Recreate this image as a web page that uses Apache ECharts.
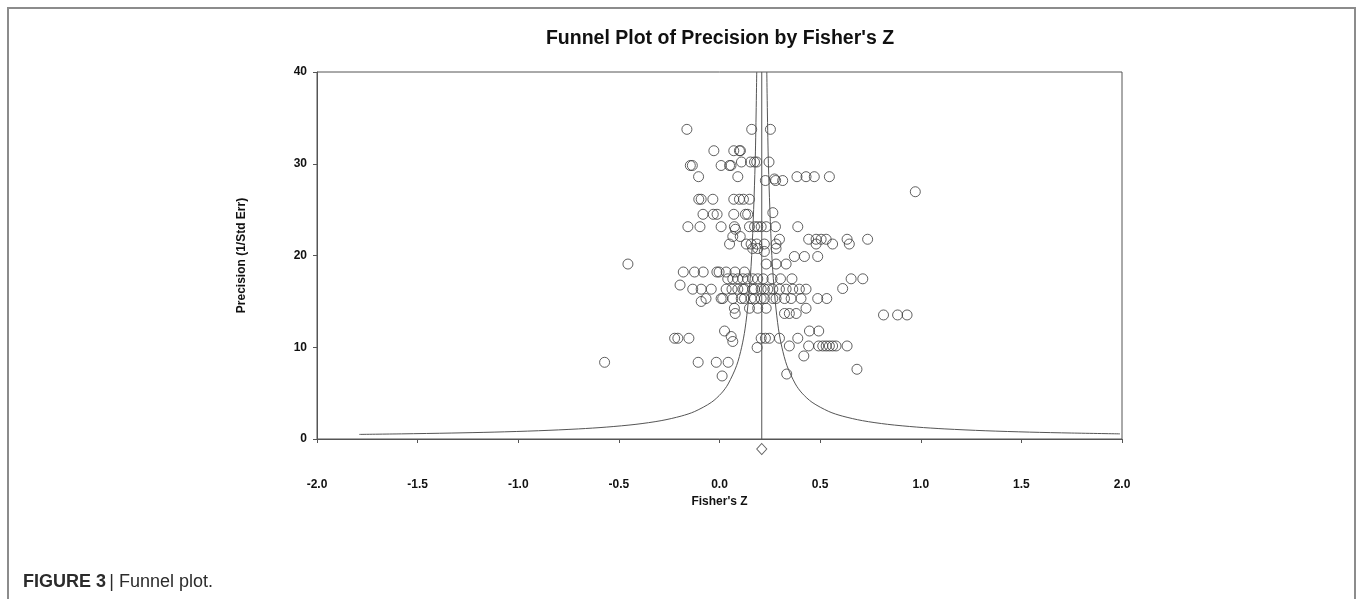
<!DOCTYPE html>
<html>
<head>
<meta charset="utf-8">
<title>Funnel Plot of Precision by Fisher's Z</title>
<script src="https://cdn.jsdelivr.net/npm/echarts@6/dist/echarts.min.js"></script>
<style>
  html, body { margin: 0; padding: 0; background: #fff; }
  #chart { width: 1358px; height: 599px; }
</style>
</head>
<body>
<div id="chart"></div>
<script>
// study points (Fisher's Z, precision)
const studyZ = [
  -0.162, 0.160, 0.253,
  -0.028, 0.071, 0.099, 0.104,
  0.109, 0.154, 0.174, 0.185, 0.246,
  -0.145, -0.135, 0.008, 0.050, 0.057,
  -0.104, 0.091, 0.385, 0.430, 0.471, 0.546,
  0.273,
  0.228, 0.279, 0.314,
  0.973,
  -0.103, -0.091, -0.033, 0.071, 0.099, 0.119, 0.149,
  0.265,
  -0.082, -0.031, -0.012, 0.071, 0.129, 0.140,
  -0.157, -0.097, 0.008, 0.074, 0.149, 0.174, 0.190, 0.207, 0.232, 0.278, 0.389,
  0.079,
  0.066, 0.103,
  0.298, 0.443, 0.480, 0.505, 0.530, 0.634, 0.736,
  0.050, 0.133, 0.157, 0.185, 0.223, 0.281, 0.480, 0.562, 0.645,
  0.165, 0.190, 0.281,
  0.223,
  0.372, 0.422, 0.488,
  -0.455, 0.232, 0.281, 0.331,
  -0.180, -0.124, -0.081, -0.013, -0.002, 0.033, 0.077, 0.124,
  0.041, 0.066, 0.091, 0.116, 0.140, 0.165, 0.190, 0.217, 0.261, 0.303, 0.360, 0.654, 0.712,
  -0.196,
  0.612,
  -0.133, -0.091, -0.041, 0.033, 0.062, 0.091, 0.116, 0.124, 0.165, 0.174, 0.207, 0.223, 0.240, 0.265, 0.298, 0.331, 0.364, 0.397, 0.430,
  -0.067, 0.008, 0.016, 0.066, 0.108, 0.124, 0.157, 0.174, 0.207, 0.223, 0.265, 0.281, 0.323, 0.356, 0.405, 0.488, 0.533,
  -0.091,
  0.074, 0.149, 0.190, 0.232, 0.430,
  0.078, 0.323, 0.347, 0.381,
  0.815, 0.885, 0.932,
  0.025, 0.447, 0.493,
  0.058,
  -0.223, -0.207, -0.152, 0.207, 0.228, 0.248, 0.298, 0.389,
  0.066,
  0.347, 0.443, 0.493, 0.513, 0.530, 0.546, 0.562, 0.579, 0.634,
  0.187,
  0.419,
  -0.571, -0.106, -0.016, 0.043,
  0.683,
  0.334,
  0.013
]
const studyPrecision = [
  33.75, 33.75, 33.75,
  31.42, 31.42, 31.42, 31.42,
  30.19, 30.19, 30.19, 30.19, 30.19,
  29.81, 29.81, 29.81, 29.81, 29.81,
  28.59, 28.59, 28.59, 28.59, 28.59, 28.59,
  28.34,
  28.17, 28.17, 28.17,
  26.95,
  26.13, 26.13, 26.13, 26.13, 26.13, 26.13, 26.13,
  24.67,
  24.49, 24.49, 24.49, 24.49, 24.49, 24.49,
  23.14, 23.14, 23.14, 23.14, 23.14, 23.14, 23.14, 23.14, 23.14, 23.14, 23.14,
  22.86,
  22.07, 22.07,
  21.77, 21.77, 21.77, 21.77, 21.77, 21.77, 21.77,
  21.25, 21.25, 21.25, 21.25, 21.25, 21.25, 21.25, 21.25, 21.25,
  20.76, 20.76, 20.76,
  20.44,
  19.89, 19.89, 19.89,
  19.07, 19.07, 19.07, 19.07,
  18.20, 18.20, 18.20, 18.20, 18.20, 18.20, 18.20, 18.20,
  17.46, 17.46, 17.46, 17.46, 17.46, 17.46, 17.46, 17.46, 17.46, 17.46, 17.46, 17.46, 17.46,
  16.78,
  16.40,
  16.33, 16.33, 16.33, 16.33, 16.33, 16.33, 16.33, 16.33, 16.33, 16.33, 16.33, 16.33, 16.33, 16.33, 16.33, 16.33, 16.33, 16.33, 16.33,
  15.31, 15.31, 15.31, 15.31, 15.31, 15.31, 15.31, 15.31, 15.31, 15.31, 15.31, 15.31, 15.31, 15.31, 15.31, 15.31, 15.31,
  14.99,
  14.25, 14.25, 14.25, 14.25, 14.25,
  13.68, 13.68, 13.68, 13.68,
  13.52, 13.52, 13.52,
  11.77, 11.77, 11.77,
  11.17,
  10.98, 10.98, 10.98, 10.98, 10.98, 10.98, 10.98, 10.98,
  10.63,
  10.14, 10.14, 10.14, 10.14, 10.14, 10.14, 10.14, 10.14, 10.14,
  9.97,
  9.05,
  8.36, 8.36, 8.36, 8.36,
  7.60,
  7.08,
  6.87
]

// funnel limits and the pooled estimate
const funnelPrecision = [40, 30, 20, 15, 12, 10, 8, 6, 5, 4, 3, 2.5, 2, 1.6, 1.3, 1.1, 0.9, 0.75, 0.65, 0.56, 0.5]
const funnelLeft = [0.185, 0.177, 0.16, 0.143, 0.127, 0.11, 0.085, 0.043, 0.01, -0.04, -0.123, -0.19, -0.29, -0.415, -0.56, -0.70, -0.90, -1.12, -1.33, -1.58, -1.79]
const funnelRight = [0.235, 0.243, 0.26, 0.277, 0.293, 0.31, 0.335, 0.377, 0.41, 0.46, 0.543, 0.61, 0.71, 0.835, 0.98, 1.12, 1.32, 1.54, 1.75, 1.99]
const pooledZ = 0.21
const pooledMarkY = -1.09
const centerLineY = [0, 40]

const xTicks = { min: -2, max: 2, interval: 0.5 }
const yTicks = { min: 0, max: 40, interval: 10 }

const ink = '#3a3a3a'
const font = 'Arial, "Liberation Sans", sans-serif'

const studies = studyZ.map((z, i) => [z, studyPrecision[i]])
const leftLine = funnelLeft.map((z, i) => [z, funnelPrecision[i]])
const rightLine = funnelRight.map((z, i) => [z, funnelPrecision[i]])
const centerLine = centerLineY.map((p) => [pooledZ, p])

const chart = echarts.init(document.getElementById('chart'))

const option = {
  backgroundColor: '#fff',
  animation: false,
  title: {
    text: "Funnel Plot of Precision by Fisher's Z",
    left: 715,
    top: 24,
    textAlign: 'center',
    textStyle: { fontFamily: font, fontWeight: 'bold', fontSize: 19.5, color: '#111' }
  },
  grid: {
    left: 317,
    right: 236,
    top: 72,
    bottom: 160,
    show: true,
    borderColor: '#555',
    borderWidth: 1,
    backgroundColor: 'transparent'
  },
  xAxis: {
    type: 'value',
    min: xTicks.min,
    max: xTicks.max,
    interval: xTicks.interval,
    name: "Fisher's Z",
    nameLocation: 'middle',
    nameGap: 56,
    nameTextStyle: { fontFamily: font, fontWeight: 'bold', fontSize: 12, color: '#111' },
    axisLine: { show: true, onZero: false, lineStyle: { color: '#555', width: 1 } },
    axisTick: { show: true, inside: false, length: 4, lineStyle: { color: '#555' } },
    axisLabel: {
      margin: 40,
      fontFamily: font,
      fontWeight: 'bold',
      fontSize: 12,
      color: '#111',
      formatter: (v) => v.toFixed(1)
    },
    splitLine: { show: false }
  },
  yAxis: {
    type: 'value',
    min: yTicks.min,
    max: yTicks.max,
    interval: yTicks.interval,
    name: 'Precision (1/Std Err)',
    nameLocation: 'middle',
    nameRotate: 90,
    nameGap: 69,
    nameTextStyle: { fontFamily: font, fontWeight: 'bold', fontSize: 12, color: '#111' },
    axisLine: { show: true, onZero: false, lineStyle: { color: '#555', width: 1 } },
    axisTick: { show: true, inside: false, length: 4, lineStyle: { color: '#555' } },
    axisLabel: { margin: 10, fontFamily: font, fontWeight: 'bold', fontSize: 12, color: '#111' },
    splitLine: { show: false }
  },
  graphic: [
    {
      type: 'rect',
      shape: { x: 8, y: 8, width: 1347, height: 620 },
      style: { fill: 'none', stroke: '#8c8c8c', lineWidth: 2 },
      silent: true
    },
    {
      type: 'text',
      left: 23,
      top: 573,
      style: {
        text: '{b|FIGURE 3} {n|| Funnel plot.}',
        rich: {
          b: { fontFamily: font, fontWeight: 'bold', fontSize: 18, fill: '#2b2b2b' },
          n: { fontFamily: font, fontSize: 18, fill: '#2b2b2b' }
        }
      }
    }
  ],
  series: [
    {
      name: 'funnel left',
      type: 'line',
      data: leftLine,
      smooth: 0.3,
      symbol: 'none',
      lineStyle: { color: '#555', width: 1 },
      silent: true
    },
    {
      name: 'funnel right',
      type: 'line',
      data: rightLine,
      smooth: 0.3,
      symbol: 'none',
      lineStyle: { color: '#555', width: 1 },
      silent: true
    },
    {
      name: 'pooled',
      type: 'line',
      data: centerLine,
      symbol: 'none',
      lineStyle: { color: '#555', width: 1 },
      silent: true
    },
    {
      name: 'studies',
      type: 'scatter',
      data: studies,
      symbol: 'circle',
      symbolSize: 10,
      itemStyle: { color: 'rgba(0,0,0,0)', borderColor: ink, borderWidth: 1 }
    },
    {
      name: 'pooled estimate',
      type: 'scatter',
      data: [[pooledZ, pooledMarkY]],
      clip: false,
      symbol: 'diamond',
      symbolSize: [10, 11],
      itemStyle: { color: 'rgba(0,0,0,0)', borderColor: ink, borderWidth: 1 }
    }
  ]
}

chart.setOption(option)
</script>
</body>
</html>
